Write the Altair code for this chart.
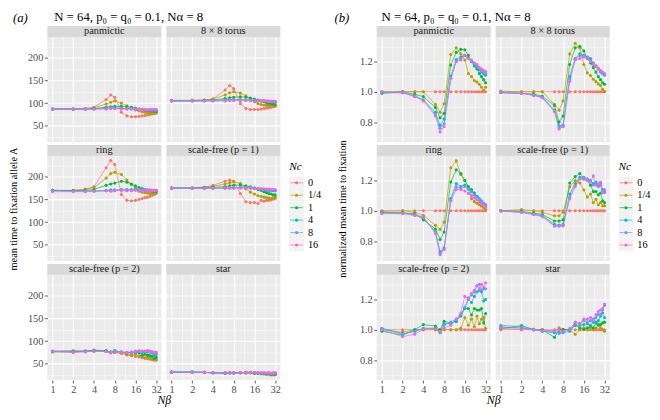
import altair as alt
import pandas as pd

# ---------------- data ----------------
X = [1, 2, 3, 4, 6, 7, 8, 10, 12, 14, 16, 18, 20, 22, 24, 26, 28, 30, 32]
CATS = ["0", "1/4", "1", "4", "8", "16"]
PALETTE = ["#F8766D", "#B79F00", "#00BA38", "#00BFC4", "#619CFF", "#F564E3"]
NETWORKS = ["panmictic", "8 × 8 torus", "ring", "scale-free (p = 1)",
            "scale-free (p = 2)", "star"]

# (a) mean time to fixation
A_PANMICTIC = {
    "0":   [87, 87, 88, 91, 108, 118, 113, 80, 72, 70, 70, 71, 72, 73, 74, 75, 76, 77, 78],
    "1/4": [87, 87, 88, 90, 98, 102, 105, 100, 94, 89, 85, 83, 81, 80, 79, 78, 78, 78, 79],
    "1":   [87, 87, 87, 88, 91, 92, 93, 93, 92, 91, 89, 87, 86, 85, 84, 83, 83, 82, 82],
    "4":   [87, 87, 87, 87, 89, 90, 90, 89, 88, 88, 87, 86, 86, 85, 85, 85, 84, 84, 84],
    "8":   [87, 87, 87, 87, 88, 89, 89, 88, 88, 87, 87, 86, 86, 86, 85, 85, 85, 85, 85],
    "16":  [87, 87, 87, 87, 87, 88, 88, 87, 87, 87, 87, 87, 86, 86, 86, 86, 86, 86, 86],
}
A_TORUS = {
    "0":   [106, 106, 107, 109, 129, 139, 132, 99, 88, 86, 86, 86, 87, 88, 89, 90, 91, 92, 93],
    "1/4": [106, 106, 107, 109, 118, 123, 125, 122, 116, 110, 103, 99, 97, 96, 95, 95, 95, 94, 94],
    "1":   [105, 105, 106, 107, 110, 112, 113, 114, 113, 111, 109, 107, 105, 103, 101, 100, 99, 98, 97],
    "4":   [105, 105, 105, 106, 107, 108, 108, 108, 107, 107, 106, 106, 105, 105, 104, 104, 103, 103, 102],
    "8":   [105, 105, 105, 105, 106, 107, 107, 107, 107, 106, 106, 105, 105, 105, 104, 104, 104, 103, 103],
    "16":  [105, 105, 105, 105, 105, 106, 106, 106, 106, 105, 105, 105, 105, 105, 105, 104, 104, 104, 104],
}
A_RING = {
    "0":   [170, 170, 173, 178, 220, 236, 227, 161, 148, 147, 148, 150, 152, 154, 155, 157, 159, 161, 163],
    "1/4": [170, 170, 172, 176, 197, 207, 210, 205, 193, 183, 175, 168, 166, 165, 164, 163, 163, 164, 165],
    "1":   [170, 169, 170, 172, 181, 184, 186, 190, 188, 184, 180, 176, 174, 172, 170, 169, 168, 168, 168],
    "4":   [170, 169, 169, 169, 170, 171, 171, 172, 172, 172, 173, 172, 172, 171, 171, 171, 170, 170, 170],
    "8":   [169, 168, 168, 168, 169, 170, 170, 171, 171, 171, 172, 171, 171, 171, 170, 170, 170, 170, 170],
    "16":  [167, 167, 167, 168, 169, 168, 169, 170, 169, 169, 170, 169, 169, 170, 170, 170, 170, 170, 170],
}
A_SF1 = {
    "0":   [175, 175, 177, 181, 190, 193, 190, 163, 145, 143, 143, 141, 148, 146, 148, 148, 149, 151, 152],
    "1/4": [175, 175, 177, 179, 184, 187, 189, 185, 173, 166, 162, 158, 157, 155, 154, 153, 152, 153, 155],
    "1":   [175, 175, 176, 177, 178, 180, 181, 182, 180, 178, 175, 172, 170, 167, 165, 163, 162, 160, 160],
    "4":   [175, 175, 175, 175, 175, 176, 176, 177, 177, 176, 175, 174, 173, 172, 171, 170, 170, 169, 169],
    "8":   [175, 175, 175, 175, 175, 175, 175, 176, 176, 175, 175, 174, 173, 173, 172, 171, 171, 171, 170],
    "16":  [175, 175, 174, 174, 175, 175, 175, 175, 175, 175, 174, 174, 174, 173, 173, 173, 172, 172, 172],
}
A_SF2 = {
    "0":   [77, 79, 78, 78, 77, 76, 75, 73, 70, 68, 66, 65, 63, 62, 61, 60, 59, 58, 58],
    "1/4": [77, 78, 78, 78, 77, 76, 75, 73, 70, 69, 71, 67, 67, 63, 66, 62, 63, 63, 59],
    "1":   [76, 76, 78, 80, 79, 76, 79, 76, 74, 75, 75, 74, 69, 71, 69, 68, 67, 61, 64],
    "4":   [78, 77, 77, 79, 78, 74, 78, 76, 74, 74, 75, 78, 74, 76, 76, 76, 74, 69, 70],
    "8":   [78, 76, 77, 78, 77, 75, 77, 76, 75, 76, 78, 78, 77, 77, 78, 78, 76, 74, 73],
    "16":  [77, 75, 76, 78, 77, 75, 76, 75, 75, 75, 77, 78, 78, 78, 79, 76, 77, 74, 76],
}
A_STAR = {
    "0":   [31, 31, 31, 30, 30, 30, 30, 30, 30, 30, 29, 29, 28, 28, 27, 27, 26, 26, 26],
    "1/4": [31, 31, 31, 30, 30, 30, 30, 30, 29, 30, 29, 29, 28, 28, 27, 28, 26, 26, 26],
    "1":   [31, 32, 31, 30, 29, 30, 30, 30, 31, 30, 29, 29, 29, 28, 28, 28, 27, 27, 27],
    "4":   [32, 31, 31, 30, 29, 30, 29, 30, 31, 31, 30, 30, 29, 29, 28, 29, 28, 29, 28],
    "8":   [32, 32, 31, 30, 30, 29, 30, 30, 31, 31, 31, 30, 30, 30, 29, 30, 29, 29, 30],
    "16":  [31, 31, 31, 30, 30, 30, 30, 30, 31, 31, 31, 31, 30, 30, 30, 30, 29, 30, 30],
}

# (b) normalized mean time to fixation
B_ONE = [1.0, 1.0, 1.0, 1.0, 1.0, 1.0, 1.0, 1.0, 1.0, 1.0, 1.0, 1.0, 1.0, 1.0, 1.0, 1.0, 1.0, 1.0, 1.0]
B_PANMICTIC = {
    "0":   B_ONE,
    "1/4": [1.0, 1.0, 1.0, 1.0, 0.917, 0.865, 0.921, 1.246, 1.29, 1.25, 1.21, 1.12, 1.10, 1.075, 1.065, 1.05, 1.03, 1.01, 1.03],
    "1":   [0.99, 1.0, 0.983, 0.969, 0.896, 0.829, 0.858, 1.177, 1.26, 1.28, 1.277, 1.24, 1.20, 1.17, 1.15, 1.12, 1.10, 1.08, 1.06],
    "4":   [0.995, 0.995, 0.975, 0.948, 0.865, 0.78, 0.82, 1.104, 1.213, 1.23, 1.24, 1.22, 1.20, 1.18, 1.16, 1.145, 1.13, 1.12, 1.11],
    "8":   [0.995, 0.993, 0.97, 0.944, 0.85, 0.76, 0.79, 1.09, 1.2, 1.22, 1.24, 1.22, 1.2, 1.19, 1.17, 1.155, 1.14, 1.13, 1.12],
    "16":  [1.0, 0.995, 0.968, 0.94, 0.84, 0.735, 0.77, 1.09, 1.2, 1.21, 1.24, 1.22, 1.21, 1.19, 1.18, 1.16, 1.15, 1.14, 1.135],
}
B_TORUS = {
    "0":   B_ONE,
    "1/4": [1.005, 1.0, 1.0, 1.0, 0.917, 0.879, 0.94, 1.25, 1.32, 1.29, 1.18, 1.125, 1.108, 1.083, 1.067, 1.052, 1.042, 1.017, 1.004],
    "1":   [0.995, 0.99, 0.985, 0.97, 0.91, 0.80, 0.84, 1.18, 1.29, 1.30, 1.27, 1.22, 1.19, 1.16, 1.13, 1.10, 1.08, 1.06, 1.05],
    "4":   [0.995, 0.99, 0.98, 0.965, 0.88, 0.775, 0.78, 1.10, 1.22, 1.25, 1.24, 1.23, 1.22, 1.19, 1.17, 1.15, 1.13, 1.12, 1.11],
    "8":   [0.995, 0.99, 0.978, 0.962, 0.875, 0.765, 0.775, 1.085, 1.215, 1.24, 1.235, 1.225, 1.21, 1.185, 1.17, 1.155, 1.14, 1.125, 1.115],
    "16":  [1.0, 0.99, 0.975, 0.96, 0.87, 0.755, 0.77, 1.07, 1.21, 1.22, 1.23, 1.22, 1.20, 1.18, 1.17, 1.15, 1.14, 1.13, 1.12],
}
B_RING = {
    "0":   B_ONE,
    "1/4": [0.996, 1.0, 0.99, 0.97, 0.904, 0.877, 0.925, 1.283, 1.329, 1.24, 1.20, 1.15, 1.08, 1.06, 1.05, 1.04, 1.03, 1.02, 1.01],
    "1":   [0.99, 0.987, 0.98, 0.94, 0.88, 0.81, 0.86, 1.19, 1.27, 1.246, 1.2, 1.16, 1.14, 1.117, 1.096, 1.075, 1.058, 1.044, 1.033],
    "4":   [0.99, 0.985, 0.975, 0.955, 0.86, 0.73, 0.755, 1.08, 1.18, 1.16, 1.17, 1.15, 1.13, 1.11, 1.095, 1.08, 1.065, 1.05, 1.04],
    "8":   [0.985, 0.983, 0.97, 0.955, 0.855, 0.72, 0.75, 1.07, 1.16, 1.15, 1.16, 1.14, 1.125, 1.105, 1.09, 1.075, 1.06, 1.045, 1.035],
    "16":  [0.981, 0.981, 0.97, 0.96, 0.85, 0.71, 0.745, 1.064, 1.141, 1.141, 1.13, 1.115, 1.10, 1.085, 1.073, 1.06, 1.046, 1.035, 1.025],
}
B_SF1 = {
    "0":   B_ONE,
    "1/4": [1.0, 1.008, 1.0, 0.99, 0.967, 0.967, 0.99, 1.158, 1.2, 1.183, 1.138, 1.09, 1.11, 1.054, 1.075, 1.04, 1.054, 1.033, 1.033],
    "1":   [1.0, 0.996, 0.985, 0.975, 0.933, 0.933, 0.94, 1.183, 1.225, 1.246, 1.21, 1.2, 1.169, 1.127, 1.127, 1.106, 1.117, 1.065, 1.054],
    "4":   [1.0, 0.99, 0.98, 0.97, 0.91, 0.905, 0.91, 1.11, 1.18, 1.22, 1.22, 1.21, 1.2, 1.18, 1.19, 1.17, 1.18, 1.14, 1.13],
    "8":   [0.998, 0.99, 0.975, 0.965, 0.90, 0.90, 0.905, 1.09, 1.17, 1.21, 1.22, 1.21, 1.2, 1.17, 1.18, 1.16, 1.17, 1.13, 1.12],
    "16":  [1.0, 0.99, 0.975, 0.96, 0.90, 0.90, 0.90, 1.08, 1.16, 1.21, 1.21, 1.2, 1.19, 1.23, 1.17, 1.18, 1.19, 1.12, 1.14],
}
B_SF2 = {
    "0":   B_ONE,
    "1/4": [1.0, 0.985, 1.0, 1.0, 1.0, 1.0, 1.0, 1.0, 1.0, 1.01, 1.08, 1.03, 1.07, 1.02, 1.09, 1.04, 1.07, 1.08, 1.01],
    "1":   [0.99, 0.965, 1.0, 1.034, 1.024, 1.0, 1.055, 1.045, 1.055, 1.097, 1.14, 1.14, 1.097, 1.14, 1.13, 1.13, 1.14, 1.045, 1.107],
    "4":   [1.01, 0.975, 0.99, 1.01, 1.01, 0.98, 1.04, 1.04, 1.06, 1.09, 1.14, 1.2, 1.18, 1.22, 1.25, 1.26, 1.25, 1.19, 1.2],
    "8":   [1.005, 0.97, 0.99, 1.005, 1.01, 0.985, 1.03, 1.05, 1.07, 1.1, 1.15, 1.21, 1.23, 1.25, 1.29, 1.3, 1.26, 1.27, 1.27],
    "16":  [1.0, 0.955, 0.97, 1.005, 1.005, 0.99, 1.01, 1.03, 1.07, 1.11, 1.22, 1.2, 1.24, 1.26, 1.29, 1.27, 1.3, 1.28, 1.31],
}
B_STAR = {
    "0":   B_ONE,
    "1/4": [1.013, 1.013, 1.0, 1.0, 0.986, 1.013, 1.0, 1.0, 0.97, 1.0, 1.013, 1.0, 1.013, 1.0, 1.013, 1.03, 1.013, 1.0, 0.99],
    "1":   [1.007, 1.028, 1.0, 1.0, 0.95, 1.0, 1.003, 1.0, 1.03, 1.013, 1.003, 1.013, 1.024, 1.013, 1.045, 1.034, 1.034, 1.045, 1.05],
    "4":   [1.02, 1.01, 1.005, 0.99, 0.98, 0.985, 0.98, 0.99, 1.03, 1.03, 1.035, 1.04, 1.03, 1.05, 1.05, 1.06, 1.09, 1.11, 1.08],
    "8":   [1.03, 1.02, 1.0, 0.99, 0.99, 0.975, 0.985, 1.0, 1.05, 1.04, 1.06, 1.05, 1.06, 1.07, 1.08, 1.1, 1.1, 1.13, 1.16],
    "16":  [1.01, 1.0, 1.0, 0.995, 0.995, 1.0, 0.99, 1.01, 1.045, 1.04, 1.07, 1.07, 1.08, 1.06, 1.1, 1.12, 1.13, 1.14, 1.17],
}

A_SETS = [A_PANMICTIC, A_TORUS, A_RING, A_SF1, A_SF2, A_STAR]
B_SETS = [B_PANMICTIC, B_TORUS, B_RING, B_SF1, B_SF2, B_STAR]

HEADING = "N = 64, p₀ = q₀ = 0.1, Nα = 8"
A_YTITLE = "mean time to fixation allele A"
B_YTITLE = "normalized mean time to fixation"

# ---------------- styling / layout ----------------
FONT = "Liberation Serif"
W, H, STRIP = 116, 107, 11
LEG_A_W, LEG_B_W = 88, 38

X_GRID = [1, 2 ** 0.5, 2, 2 ** 1.5, 4, 2 ** 2.5, 8, 2 ** 3.5, 16, 2 ** 4.5, 32]
X_MAJOR = "datum.value == round(datum.value)"
YA_GRID = [25, 50, 75, 100, 125, 150, 175, 200, 225]
YA_MAJOR = "datum.value % 50 == 0"
YB_GRID = [0.7, 0.8, 0.9, 1.0, 1.1, 1.2, 1.3]
YB_MAJOR = "abs(datum.value * 5 - round(datum.value * 5)) < 0.001"

XSCALE = alt.Scale(type="log", base=2, domain=[2 ** -0.25, 2 ** 5.25], nice=False)
YA_SCALE = alt.Scale(domain=[14, 246], nice=False, zero=False)
YB_SCALE = alt.Scale(domain=[0.668, 1.362], nice=False, zero=False)
COLOR = alt.Color("Nc:N", scale=alt.Scale(domain=CATS, range=PALETTE), legend=None)


def cond(test, a, b):
    return {"condition": {"test": test, "value": a}, "value": b}


def x_axis(show, with_title):
    kw = dict(values=X_GRID, domain=False, grid=True, gridColor="white",
              gridWidth=cond(X_MAJOR, 1.1, 0.5), title=None)
    if show:
        kw.update(labels=True, ticks=True, tickSize=3, tickWidth=0.8, tickColor="#333333",
                  tickOpacity=cond(X_MAJOR, 1, 0), format="d",
                  labelExpr=f"{X_MAJOR} ? datum.label : ''",
                  labelFont=FONT, labelFontSize=10.5, labelColor="#4D4D4D",
                  labelPadding=1.5, labelFlush=False, labelOverlap=False)
    else:
        kw.update(labels=False, ticks=False)
    if with_title:
        kw.update(title="Nβ", titleX=W + 2.5, titleY=15, titleFont=FONT, titleFontSize=12,
                  titleFontStyle="italic", titleFontWeight="normal", titleColor="black")
    return alt.Axis(**kw)


def y_axis(grid, major, fmt, show, title=None, pad=6):
    kw = dict(values=grid, domain=False, grid=True, gridColor="white",
              gridWidth=cond(major, 1.1, 0.5), title=None)
    if show:
        kw.update(labels=True, ticks=True, tickSize=3, tickWidth=0.8, tickColor="#333333",
                  tickOpacity=cond(major, 1, 0), format=fmt,
                  labelExpr=f"{major} ? datum.label : ''",
                  labelFont=FONT, labelFontSize=10.5, labelColor="#4D4D4D",
                  labelPadding=1.5, labelOverlap=False, labelFlush=False)
    else:
        kw.update(labels=False, ticks=False)
    if title:
        kw.update(title=title, titlePadding=pad, titleFont=FONT, titleFontSize=10.5,
                  titleFontWeight="normal", titleColor="black")
    return alt.Axis(**kw)


def long_df(values):
    rows = []
    for c in CATS:
        for xv, yv in zip(X, values[c]):
            rows.append({"x": xv, "y": yv, "Nc": c})
    return pd.DataFrame(rows)


def panel(values, name, idx, fig):
    col, row = idx % 2, idx // 2
    left, bottom = col == 0, row == 2
    if fig == "a":
        ysc, ygrid, ymaj, yfmt, ytitle, pad = YA_SCALE, YA_GRID, YA_MAJOR, "d", A_YTITLE, 9
    else:
        ysc, ygrid, ymaj, yfmt, ytitle, pad = YB_SCALE, YB_GRID, YB_MAJOR, ".1f", B_YTITLE, 12
    xenc = alt.X("x:Q", scale=XSCALE, axis=x_axis(bottom, bottom and left))
    yenc = alt.Y("y:Q", scale=ysc,
                 axis=y_axis(ygrid, ymaj, yfmt, left, ytitle if (left and row == 1) else None, pad))
    df = long_df(values)
    base = alt.Chart(df)
    lines = base.mark_line(strokeWidth=0.7).encode(x=xenc, y=yenc, color=COLOR, detail="Nc:N")
    pts = base.mark_circle(size=10, opacity=1).encode(x=xenc, y=yenc, color=COLOR)
    sdf = pd.DataFrame({"label": [name]})
    strip = alt.Chart(sdf).mark_rect(color="#D9D9D9").encode(
        x=alt.value(0), x2=alt.value(W), y=alt.value(-STRIP), y2=alt.value(0))
    stext = alt.Chart(sdf).mark_text(font=FONT, fontSize=10.5, color="#1A1A1A").encode(
        x=alt.value(W / 2), y=alt.value(-STRIP / 2), text="label:N")
    layers = [lines, pts, strip, stext]
    if idx == 0:
        tag = "(a)" if fig == "a" else "(b)"
        tag_x = -35 if fig == "a" else -43
        head_x = 7 if fig == "a" else 5
        hdf = pd.DataFrame({"t": [HEADING]})
        tdf = pd.DataFrame({"t": [tag]})
        layers.append(alt.Chart(hdf).mark_text(align="left", font=FONT, fontSize=13,
                                               color="black").encode(
            x=alt.value(head_x), y=alt.value(-20), text="t:N"))
        layers.append(alt.Chart(tdf).mark_text(align="left", font=FONT, fontSize=13,
                                               fontStyle="italic", color="black").encode(
            x=alt.value(tag_x), y=alt.value(-19), text="t:N"))
    return alt.layer(*layers).properties(
        width=W, height=H, view=alt.ViewBackground(fill="#EBEBEB", stroke=None))


def legend_chart(width):
    df = pd.DataFrame({"Nc": CATS})
    ys = alt.Y("Nc:N", scale=alt.Scale(type="band", domain=CATS, range=[21, 97],
                                       paddingInner=0, paddingOuter=0), axis=None)
    base = alt.Chart(df)
    keys = base.mark_rect(color="#F2F2F2").encode(x=alt.value(4), x2=alt.value(19), y=ys)
    rules = base.mark_rule(strokeWidth=0.7).encode(x=alt.value(5), x2=alt.value(18), y=ys, color=COLOR)
    pts = base.mark_circle(size=10, opacity=1).encode(x=alt.value(11.5), y=ys, color=COLOR)
    txt = base.mark_text(align="left", font=FONT, fontSize=10.5, color="black").encode(
        x=alt.value(23), y=ys, text="Nc:N")
    ttl = alt.Chart(pd.DataFrame({"t": ["Nc"]})).mark_text(
        align="left", font=FONT, fontSize=11.5, fontStyle="italic", color="black").encode(
        x=alt.value(4), y=alt.value(11.5), text="t:N")
    return alt.layer(keys, rules, pts, txt, ttl).properties(width=width, height=H)


def blank(width):
    return alt.Chart(pd.DataFrame({"t": [""]})).mark_text().encode(
        x=alt.value(0), y=alt.value(0), text="t:N").properties(width=width, height=H)


A_P = [panel(A_SETS[i], NETWORKS[i], i, "a") for i in range(6)]
B_P = [panel(B_SETS[i], NETWORKS[i], i, "b") for i in range(6)]

cells = [
    A_P[0], A_P[1], blank(LEG_A_W), B_P[0], B_P[1], blank(LEG_B_W),
    A_P[2], A_P[3], legend_chart(LEG_A_W), B_P[2], B_P[3], legend_chart(LEG_B_W),
    A_P[4], A_P[5], blank(LEG_A_W), B_P[4], B_P[5], blank(LEG_B_W),
]

chart = alt.concat(*cells, columns=6, spacing={"row": 14, "column": 5},
                   bounds="flush").properties(padding=0).configure_view(stroke=None)

chart.save("out.html", embed_options={"renderer": "svg", "actions": False})
